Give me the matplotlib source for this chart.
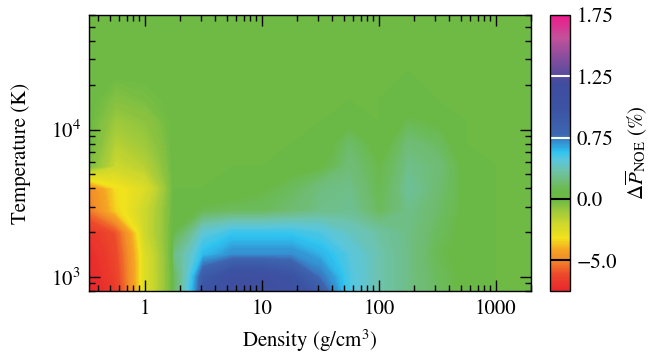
import numpy as np
import matplotlib
matplotlib.use('Agg')
import matplotlib.pyplot as plt
from matplotlib.colors import FuncNorm, LinearSegmentedColormap
from matplotlib.ticker import FuncFormatter

plt.rcParams['font.family'] = 'STIXGeneral'
plt.rcParams['mathtext.fontset'] = 'stix'
plt.rcParams['font.size'] = 15

# ==========================================
# data
# ==========================================
density = [0.316, 0.562, 1.0, 1.78, 3.16, 5.62, 10.0, 17.8, 31.6, 56.2,
           100.0, 178.0, 316.0, 562.0, 1000.0, 1780.0, 3160.0]
temperature = [708, 1000, 1413, 1995, 2818, 3981, 5623, 7943, 11220,
               15850, 25120, 39810, 70790]

# rows = temperature (low -> high), cols = density (low -> high), dP_NOE in %
dp_noe = [
    [-7.5, -6.8, -2.5, 0.15, 1.00, 1.15, 1.15, 1.10, 0.95, 0.50, 0.35, 0.25, 0.15, 0.05, 0.0, 0.0, 0.0],
    [-7.5, -6.5, -2.5, 0.15, 0.90, 1.10, 1.10, 1.00, 0.75, 0.50, 0.35, 0.25, 0.15, 0.05, 0.0, 0.0, 0.0],
    [-7.3, -6.3, -2.5, 0.25, 0.60, 0.70, 0.70, 0.70, 0.62, 0.48, 0.35, 0.25, 0.12, 0.05, 0.0, 0.0, 0.0],
    [-7.0, -6.0, -2.0, 0.10, 0.45, 0.55, 0.55, 0.55, 0.50, 0.40, 0.32, 0.25, 0.15, 0.05, 0.0, 0.0, 0.0],
    [-5.5, -3.5, -2.0, 0.05, 0.12, 0.15, 0.15, 0.20, 0.26, 0.28, 0.15, 0.26, 0.18, 0.06, 0.0, 0.0, 0.0],
    [-5.0, -3.3, -2.5, 0.00, 0.00, 0.02, 0.08, 0.15, 0.24, 0.26, 0.12, 0.30, 0.20, 0.06, 0.0, 0.0, 0.0],
    [-0.3, -2.0, -1.5, 0.00, 0.00, 0.00, 0.00, 0.04, 0.08, 0.22, 0.10, 0.26, 0.22, 0.04, 0.0, 0.0, 0.0],
    [0.0, -1.5, -1.0, 0.00, 0.00, 0.00, 0.00, 0.00, 0.04, 0.18, 0.04, 0.22, 0.16, 0.00, 0.0, 0.0, 0.0],
    [0.0, -1.0, -0.7, 0.00, 0.00, 0.00, 0.00, 0.00, 0.00, 0.06, 0.00, 0.12, 0.08, 0.00, 0.0, 0.0, 0.0],
    [0.0, -0.5, -0.3, 0.00, 0.00, 0.00, 0.00, 0.00, 0.00, 0.00, 0.00, 0.02, 0.00, 0.00, 0.0, 0.0, 0.0],
    [0.0, 0.0, 0.0, 0.0, 0.0, 0.0, 0.0, 0.0, 0.0, 0.0, 0.0, 0.0, 0.0, 0.0, 0.0, 0.0, 0.0],
    [0.0, 0.0, 0.0, 0.0, 0.0, 0.0, 0.0, 0.0, 0.0, 0.0, 0.0, 0.0, 0.0, 0.0, 0.0, 0.0, 0.0],
    [0.0, 0.0, 0.0, 0.0, 0.0, 0.0, 0.0, 0.0, 0.0, 0.0, 0.0, 0.0, 0.0, 0.0, 0.0, 0.0, 0.0],
]

cbar_ticks = [-5.0, 0.0, 0.75, 1.25, 1.75]
cbar_ticklabels = ['\u22125.0', '0.0', '0.75', '1.25', '1.75']

# ==========================================
# piecewise colour scale (equal spacing between ticks)
# ==========================================
norm_vals = [-7.5, -5.0, 0.0, 0.75, 1.25, 1.75]
norm_pos = [0.0, 0.5 / 4.5, 1.5 / 4.5, 2.5 / 4.5, 3.5 / 4.5, 1.0]


def fwd(v):
    return np.interp(v, norm_vals, norm_pos)


def inv(p):
    return np.interp(p, norm_pos, norm_vals)


norm = FuncNorm((fwd, inv), vmin=norm_vals[0], vmax=norm_vals[-1])

cmap = LinearSegmentedColormap.from_list('noe', [
    (0.000, '#e8262c'),
    (0.060, '#ec4a2b'),
    (0.111, '#f28a28'),
    (0.150, '#f5a623'),
    (0.190, '#f2e21c'),
    (0.250, '#c8d62e'),
    (0.290, '#9cc83c'),
    (0.333, '#6ab946'),
    (0.360, '#6ab946'),
    (0.400, '#70bd7a'),
    (0.440, '#6cc3b0'),
    (0.475, '#5ac6dc'),
    (0.505, '#2ec4f0'),
    (0.535, '#3394d4'),
    (0.556, '#3a78c0'),
    (0.570, '#3d66b0'),
    (0.667, '#3c52a2'),
    (0.750, '#3f4d9f'),
    (0.778, '#544b9e'),
    (0.850, '#8a4d9d'),
    (0.920, '#c4509a'),
    (1.000, '#ee1a8c'),
])

# ==========================================
# plot
# ==========================================
fig = plt.figure(figsize=(6.59, 3.58), dpi=100)
ax = fig.add_axes([89 / 659, 67 / 358, 442 / 659, 276 / 358])
cax = fig.add_axes([550 / 659, 67 / 358, 20 / 659, 276 / 358])

levels = inv(np.linspace(0, 1, 301))
ax.contourf(density, temperature, np.array(dp_noe), levels=levels,
            cmap=cmap, norm=norm, extend='both', antialiased=False)

ax.set_xscale('log')
ax.set_yscale('log')
ax.set_xlim(1 / 3, 2000)
ax.set_ylim(800, 6e4)
ax.xaxis.set_major_formatter(FuncFormatter(lambda v, p: f'{v:g}'))

ax.tick_params(which='both', direction='in', top=True, right=True,
               width=1.0, labelsize=15)
ax.tick_params(which='major', length=8, pad=6)
ax.tick_params(which='minor', length=4.5)
for sp in ax.spines.values():
    sp.set_linewidth(1.0)

ax.set_xlabel('Density (g/cm$^3$)', fontsize=15, labelpad=6)
ax.set_ylabel('Temperature (K)', fontsize=15, labelpad=14)

# bottom ticks over the dark blue patch are drawn in white
for loc, t in zip(ax.xaxis.get_majorticklocs(), ax.xaxis.get_major_ticks()):
    if 1.5 < loc < 45:
        t.tick1line.set_color('white')
for loc, t in zip(ax.xaxis.get_minorticklocs(), ax.xaxis.get_minor_ticks()):
    if 1.5 < loc < 45:
        t.tick1line.set_color('white')

# colourbar
sm = plt.cm.ScalarMappable(norm=norm, cmap=cmap)
cbar = fig.colorbar(sm, cax=cax)
cbar.set_ticks(cbar_ticks, labels=cbar_ticklabels)
cbar.ax.tick_params(length=0, pad=5, labelsize=15)
cbar.ax.minorticks_off()
cbar.outline.set_linewidth(1.0)
for v, c in zip(cbar_ticks[:-1], ['black', 'black', 'white', 'white']):
    cbar.ax.axhline(v, color=c, linewidth=1.5)
cbar.set_label(r'$\Delta\overline{P}_{\mathrm{NOE}}$ (%)', fontsize=15, labelpad=4)

fig.savefig('out.png', dpi=100)
